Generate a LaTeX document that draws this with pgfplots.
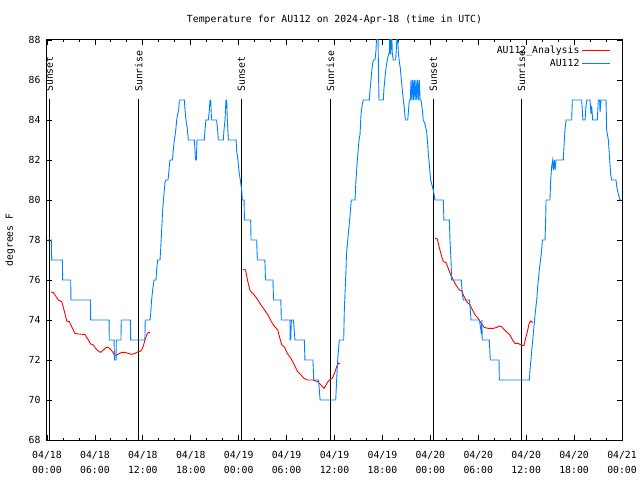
\documentclass[border=0pt]{standalone}
\usepackage{pgfplots}
\pgfplotsset{compat=1.18}
\usepackage{fontspec}
\setmainfont{DejaVu Sans Mono}
\definecolor{gblue}{RGB}{0,128,255}
\definecolor{gred}{RGB}{255,0,0}
\begin{document}
\begin{tikzpicture}[font=\fontsize{9.8bp}{11bp}\selectfont]
\useasboundingbox (-47bp,-40bp) rectangle (593bp,440bp);
\begin{axis}[
  at={(0,0)}, anchor=south west,
  scale only axis, width=575bp, height=400bp,
  xmin=0, xmax=72, ymin=68, ymax=88,
  xtick={0,6,...,72},
  xticklabels={04/18\\00:00,04/18\\06:00,04/18\\12:00,04/18\\18:00,04/19\\00:00,04/19\\06:00,04/19\\12:00,04/19\\18:00,04/20\\00:00,04/20\\06:00,04/20\\12:00,04/20\\18:00,04/21\\00:00},
  xticklabel style={align=center, font=\fontsize{9.8bp}{15bp}\selectfont, yshift=-8bp},
  yticklabel style={xshift=-3bp},
  minor x tick num=2,
  ytick={68,70,...,88},
  /pgf/number format/assume math mode=true,
  major tick length=5bp, minor tick length=2.5bp,
  tick style={black, line width=0.8bp},
  axis line style={line width=1bp},
  title={Temperature for AU112 on 2024-Apr-18 (time in UTC)},
  every axis title/.style={at={(axis description cs:0.5,1.05)}, anchor=center},
  ylabel={degrees F},
  ylabel style={at={(axis description cs:-0.064,0.5)}, anchor=center},
  legend plot pos=right,
  legend cell align=right,
  legend image code/.code={\draw[#1] (0bp,0bp) -- (28bp,0bp);},
  legend style={at={(axis description cs:0.98,0.99)}, anchor=north east, draw=none, fill=none, inner sep=0pt, row sep=0bp},
]
% sunrise / sunset lines
\addplot[black, line width=1bp, forget plot] coordinates {(0.29,68) (0.29,85.05)};
\addplot[black, line width=1bp, forget plot] coordinates {(11.48,68) (11.48,85.05)};
\addplot[black, line width=1bp, forget plot] coordinates {(24.33,68) (24.33,85.05)};
\addplot[black, line width=1bp, forget plot] coordinates {(35.48,68) (35.48,85.05)};
\addplot[black, line width=1bp, forget plot] coordinates {(48.38,68) (48.38,85.05)};
\addplot[black, line width=1bp, forget plot] coordinates {(59.40,68) (59.40,85.05)};
\node[rotate=90, anchor=west, inner sep=0pt] at (axis cs:0.29,85.4) {Sunset};
\node[rotate=90, anchor=west, inner sep=0pt] at (axis cs:11.48,85.4) {Sunrise};
\node[rotate=90, anchor=west, inner sep=0pt] at (axis cs:24.33,85.4) {Sunset};
\node[rotate=90, anchor=west, inner sep=0pt] at (axis cs:35.48,85.4) {Sunrise};
\node[rotate=90, anchor=west, inner sep=0pt] at (axis cs:48.38,85.4) {Sunset};
\node[rotate=90, anchor=west, inner sep=0pt] at (axis cs:59.40,85.4) {Sunrise};

% AU112_Analysis
\addplot[gred, line width=0.9bp] coordinates {
(0.5,75.4)(0.79,75.38)(1.13,75.17)(1.42,75.0)(1.63,74.95)(1.84,74.92)(1.96,74.75)(2.13,74.5)(2.34,74.17)(2.46,73.95)(2.8,73.92)(3.09,73.67)(3.3,73.5)(3.5,73.33)(3.92,73.3)(4.13,73.3)(4.76,73.27)(4.97,73.13)(5.18,73.0)(5.47,72.8)(5.8,72.75)(6.09,72.58)(6.43,72.45)(6.72,72.38)(7.05,72.5)(7.39,72.62)(7.68,72.63)(7.97,72.53)(8.22,72.4)(8.39,72.28)(8.64,72.22)(8.93,72.3)(9.35,72.38)(9.77,72.38)(10.18,72.33)(10.6,72.28)(11.02,72.33)(11.31,72.4)(11.65,72.43)(11.86,72.5)(12.06,72.7)(12.27,73.0)(12.48,73.25)(12.69,73.38)(12.9,73.38)
};
\addlegendentry{AU112\_Analysis}
% second night
\addplot[gred, line width=0.9bp, forget plot] coordinates {
(24.58,76.53)(24.87,76.5)(24.98,76.25)(25.2,75.83)(25.4,75.5)(25.6,75.38)(25.8,75.33)(26.4,75.0)(26.8,74.75)(27.25,74.5)(27.66,74.25)(28.1,73.92)(28.5,73.67)(28.9,73.5)(29.1,73.17)(29.4,72.75)(29.7,72.67)(30.1,72.33)(30.55,72.08)(30.96,71.75)(31.38,71.42)(31.8,71.25)(32.2,71.08)(32.6,71.0)(33.27,71.0)(33.9,70.92)(34.3,70.75)(34.7,70.58)(35.1,70.87)(35.36,71.0)(35.7,71.08)(36.0,71.33)(36.27,71.67)(36.5,71.83)(36.7,71.83)
};
% third night
\addplot[gred, line width=0.9bp, forget plot] coordinates {
(48.58,78.08)(48.88,78.05)(49.0,77.83)(49.2,77.5)(49.42,77.17)(49.63,76.92)(49.96,76.87)(50.25,76.58)(50.55,76.25)(50.88,76.0)(51.2,75.75)(51.63,75.5)(51.93,75.47)(52.13,75.25)(52.55,74.92)(52.97,74.75)(53.18,74.58)(53.6,74.25)(54.0,74.08)(54.22,73.92)(54.55,73.75)(54.72,73.63)(55.26,73.58)(55.9,73.58)(56.3,73.63)(56.6,73.7)(56.93,73.67)(57.2,73.53)(57.64,73.37)(57.98,73.25)(58.3,73.0)(58.6,72.83)(59.0,72.83)(59.44,72.73)(59.73,72.73)(59.98,73.17)(60.15,73.42)(60.36,73.8)(60.57,73.95)(60.82,73.88)
};
% AU112
\addplot[gblue, line width=0.9bp] coordinates {
(0.04,78)(0.55,78)(0.58,77)(1.93,77)(1.96,76)(2.97,76)(3.0,75)(5.44,75)(5.47,74)(7.77,74)(7.8,73)(8.4,73)(8.45,72)(8.65,72)(8.68,73)(9.26,73)(9.3,74)(10.44,74)(10.48,73)(12.26,73)(12.3,74)(12.9,74)
(12.98,74.3)(13.1,75)(13.23,75.5)(13.4,76)(13.65,76)(13.73,76.5)(13.86,77)(14.15,77)(14.23,77.5)(14.36,78.5)(14.48,79.5)(14.65,80.3)(14.78,80.9)(14.9,81)(15.15,81)(15.28,81.5)(15.4,82)(15.7,82)(15.82,82.5)(15.94,83)(16.1,83.4)(16.24,84)(16.36,84.3)(16.49,84.5)(16.57,85)
(17.2,85)(17.28,84.5)(17.4,84)(17.53,83.7)(17.7,83)(18.45,83)(18.53,82.5)(18.6,82)(18.7,82)(18.78,83)(19.7,83)(19.78,83.5)(19.9,84)(20.2,84)(20.33,84.5)(20.41,85)(20.5,85)(20.6,84)(21.24,84)(21.37,83.5)(21.45,83)(22.08,83)(22.16,83.5)(22.29,84)(22.41,85)(22.5,85)(22.58,84)(22.71,83)(23.67,83)(23.75,82.5)(23.96,81.8)(24.08,81.3)(24.21,81)(24.38,80.5)(24.45,80)(24.68,80)(24.72,79)
(25.5,79)(25.55,78)(26.26,78)(26.33,77)(27.28,77)(27.36,76)(28.3,76)(28.36,75)(29.28,75)(29.34,74)(30.42,74)(30.45,73)(30.52,73)(30.6,74)(30.85,74)(30.95,73.5)(31.05,73)(32.22,73)(32.3,72)(33.3,72)(33.4,71)(34.0,71)(34.1,70.5)(34.2,70)(36.15,70)(36.27,71)(36.4,72)(36.6,73)(37.15,73)
(37.23,74.5)(37.44,76.5)(37.5,77.3)(37.73,78.3)(37.94,79.2)(38.1,80)(38.57,80)(38.69,81)(38.86,82)(39.07,83)(39.2,83.3)(39.32,84.3)(39.49,84.8)(39.61,85)(40.36,85)(40.45,85.5)(40.57,86)(40.7,86.6)(40.86,87)(41.07,87)(41.2,87.5)(41.3,88.5)(41.45,88.5)(41.49,86.9)(41.57,85)(42.11,85)(42.2,85.6)(42.32,86.1)(42.45,86.6)(42.61,87)(42.78,87.3)(42.86,87.3)(42.95,88.5)(43.03,87.3)(43.16,88.5)(43.24,87.3)(43.36,87)(43.66,87)(43.79,87.9)(43.87,88.5)(43.99,87.4)(44.12,86.9)(44.24,86.6)(44.37,86)(44.49,85.5)(44.62,85)(44.74,84.6)(44.87,84)(45.17,84)(45.29,84.6)(45.37,85)(45.5,85)(45.58,86)(45.68,85)(45.79,86)(45.89,85)(45.99,86)(46.1,85)(46.2,86)(46.3,85)(46.41,86)(46.52,85)(46.62,86)(46.72,85)(46.83,85)(47.0,84.5)(47.12,84)(47.33,83.8)(47.54,83.4)(47.67,82.8)(47.75,82.3)(47.87,81.8)(48.04,81)(48.37,80.5)(48.58,80)(49.62,80)(49.7,79)(50.38,79)
(50.46,78)(50.59,77)(50.67,76)(51.88,76)(52.0,75.3)(52.13,75)(52.88,75)(52.97,74.7)(53.09,74)(54.14,74)(54.26,73.7)(54.4,73.3)(54.45,74)(54.5,73)(54.63,73)(55.38,73)(55.51,72)(56.6,72)(56.64,71)(60.4,71)(60.48,71.5)(60.6,72)(60.7,72.5)(60.82,73)(60.98,73.7)(61.1,74.2)(61.23,74.7)(61.32,75)(61.45,75.7)(61.57,76.2)(61.73,76.8)(61.86,77.2)(61.98,77.7)(62.03,78)(62.36,78)(62.44,79)(62.49,80)(62.98,80)(63.07,81)(63.2,81.7)(63.32,82)(63.4,81.5)(63.53,82)(63.61,81.5)(63.74,82)(64.65,82)(64.74,82.7)(64.86,83.5)(65.0,84)(65.7,84)(65.78,85)(66.95,85)(67.03,84.5)(67.1,84)(67.37,84)(67.49,84.7)(67.6,85)(68.0,85)(68.12,84.3)(68.2,84.7)(68.33,84)(68.91,84)(69.03,85)(69.2,85)(69.25,84.4)(69.37,85)(70.0,85)(70.08,83.5)(70.29,83)(70.41,82.3)(70.58,81.3)(70.7,81)(71.25,81)(71.33,80.7)(71.54,80.3)(71.75,80)(71.95,80)
};
\addlegendentry{AU112}
\end{axis}
\end{tikzpicture}
\end{document}
